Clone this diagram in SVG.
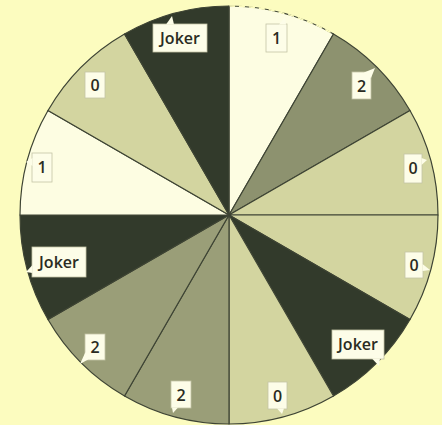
<svg xmlns="http://www.w3.org/2000/svg" width="442" height="425" viewBox="0 0 442 425">
<style>
.seg{stroke:#3e4434;stroke-width:1.2;stroke-linejoin:round}
.white{fill:#fdfde2}
.light{fill:#d3d5a0}
.mid{fill:#9a9e78}
.midd{fill:#8d926f}
.dark{fill:#323a2b}
.box{fill:#fdfde8;stroke:#c4c4a6;stroke-width:0.8}
.tail{fill:#fdfde8;stroke:none}
.lbl{font-family:"Open Sans","Liberation Sans",Arial,sans-serif;font-size:16px;font-weight:600;fill:#2a2b22;text-anchor:middle}
</style>
<rect width="442" height="425" fill="#fcfcbf"/>
<g id="seg1">
<path class="seg white" d="M229,215 L229,6 A209,209 0 0 1 333.5,34 Z"/>
<path d="M229,6 A209,209 0 0 1 333.5,34" fill="none" stroke="#fcfcbf" stroke-width="1.6" stroke-dasharray="6 4"/>
<rect class="box" x="266" y="24" width="21" height="28"/><polygon class="tail" points="279,24.5 286,24.5 285,17"/>
<text class="lbl" x="276.5" y="44">1</text>
</g>
<g id="seg2">
<path class="seg midd" d="M229,215 L333.5,34 A209,209 0 0 1 410,110.5 Z"/>
<rect class="box" x="352" y="72" width="19" height="27"/><polygon class="tail" points="364,72.5 371,78 375,68"/>
<text class="lbl" x="361.5" y="92">2</text>
</g>
<g id="seg3">
<path class="seg light" d="M229,215 L410,110.5 A209,209 0 0 1 438,215 Z"/>
<rect class="box" x="404" y="154" width="18" height="29"/><polygon class="tail" points="421.5,158 421.5,165 427,160"/>
<text class="lbl" x="413" y="174">0</text>
</g>
<g id="seg4">
<path class="seg light" d="M229,215 L438,215 A209,209 0 0 1 410,319.5 Z"/>
<rect class="box" x="405" y="252" width="18" height="26"/><polygon class="tail" points="422.5,264 422.5,271 430,270"/>
<text class="lbl" x="414" y="271">0</text>
</g>
<g id="seg5">
<path class="seg dark" d="M229,215 L410,319.5 A209,209 0 0 1 333.5,396 Z"/>
<rect class="box" x="332" y="330" width="52" height="29"/><polygon class="tail" points="372,358.5 380,358.5 379,366"/>
<text class="lbl" x="358" y="350">Joker</text>
</g>
<g id="seg6">
<path class="seg light" d="M229,215 L333.5,396 A209,209 0 0 1 229,424 Z"/>
<rect class="box" x="268" y="382" width="19" height="27"/><polygon class="tail" points="277,408.5 284,408.5 282,414"/>
<text class="lbl" x="277.5" y="402">0</text>
</g>
<g id="seg7">
<path class="seg mid" d="M229,215 L229,424 A209,209 0 0 1 124.5,396 Z"/>
<rect class="box" x="171" y="381" width="20" height="27"/><polygon class="tail" points="172,407.5 178,407.5 173,413"/>
<text class="lbl" x="181" y="401">2</text>
</g>
<g id="seg8">
<path class="seg mid" d="M229,215 L124.5,396 A209,209 0 0 1 48,319.5 Z"/>
<rect class="box" x="85" y="334" width="20" height="26"/><polygon class="tail" points="85.5,352 88,359.5 80,364"/>
<text class="lbl" x="95" y="353">2</text>
</g>
<g id="seg9">
<path class="seg dark" d="M229,215 L48,319.5 A209,209 0 0 1 20,215 Z"/>
<rect class="box" x="32" y="247" width="54" height="30"/><polygon class="tail" points="32.5,265 32.5,273 26,272"/>
<text class="lbl" x="59" y="268">Joker</text>
</g>
<g id="seg10">
<path class="seg white" d="M229,215 L20,215 A209,209 0 0 1 48,110.5 Z"/>
<rect class="box" x="32" y="153" width="20" height="29"/><polygon class="tail" points="32.5,158 32.5,166 26,162"/>
<text class="lbl" x="42" y="173">1</text>
</g>
<g id="seg11">
<path class="seg light" d="M229,215 L48,110.5 A209,209 0 0 1 124.5,34 Z"/>
<rect class="box" x="85" y="72" width="20" height="26"/>
<text class="lbl" x="95" y="91">0</text>
</g>
<g id="seg12">
<path class="seg dark" d="M229,215 L124.5,34 A209,209 0 0 1 229,6 Z"/>
<rect class="box" x="153" y="24" width="54" height="28"/><polygon class="tail" points="166,24.5 174,24.5 172,16"/>
<text class="lbl" x="180" y="44">Joker</text>
</g>
<g id="connectors"/>
</svg>
